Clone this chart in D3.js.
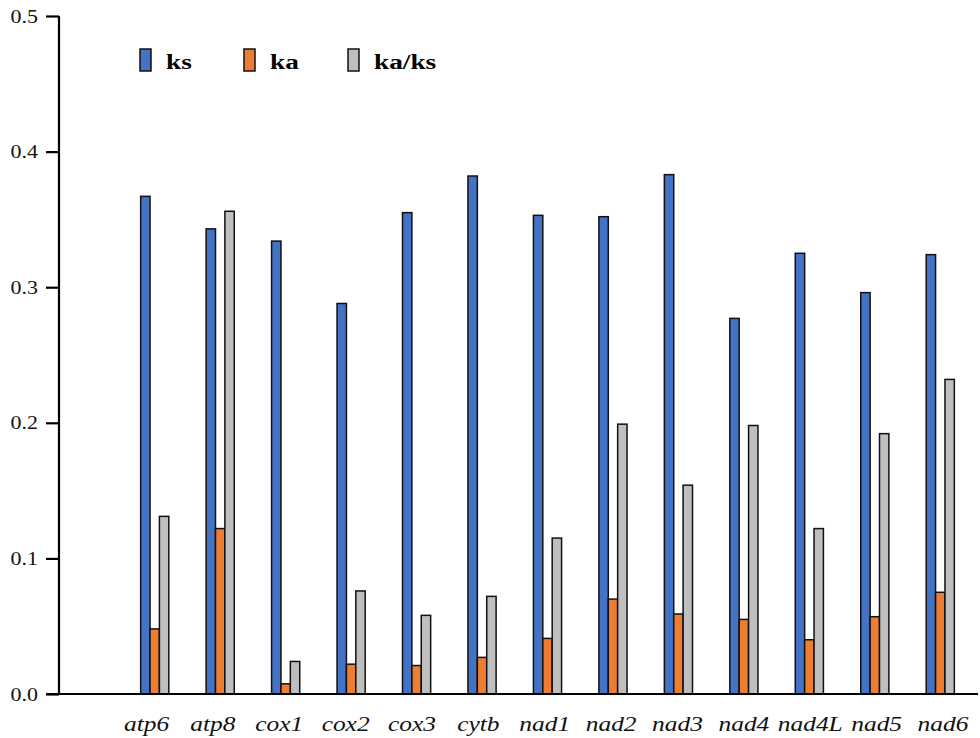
<!DOCTYPE html>
<html>
<head>
<meta charset="utf-8">
<script src="https://cdn.jsdelivr.net/npm/d3@7"></script>
<style>
  body { margin: 0; background: #fff; }
  text { font-family: "Liberation Serif", "Times New Roman", serif; }
</style>
</head>
<body>
<div id="chart"></div>
<script>
// genes and values
const genes = ["atp6", "atp8", "cox1", "cox2", "cox3", "cytb", "nad1", "nad2", "nad3", "nad4", "nad4L", "nad5", "nad6"];
const ks = [0.367, 0.343, 0.334, 0.288, 0.355, 0.382, 0.353, 0.352, 0.383, 0.277, 0.325, 0.296, 0.324];
const ka = [0.048, 0.122, 0.0075, 0.022, 0.021, 0.027, 0.041, 0.070, 0.059, 0.055, 0.040, 0.057, 0.075];
const kaks = [0.131, 0.356, 0.024, 0.076, 0.058, 0.072, 0.115, 0.199, 0.154, 0.198, 0.122, 0.192, 0.232];
const seriesNames = ["ks", "ka", "ka/ks"];
const yTicks = [0, 0.1, 0.2, 0.3, 0.4, 0.5];

const colors = ["#4472C4", "#ED7D31", "#BFBFBF"];

const width = 980, height = 738;
const axisX = 59, xEnd = 975, yTop = 16, yBase = 694;

const svg = d3.select("#chart").append("svg")
  .attr("width", width)
  .attr("height", height);

const y = d3.scaleLinear().domain([0, 0.5]).range([yBase, yTop]);

// first slot after the axis is left empty like the original
const x = d3.scaleBand().domain(genes).range([122, 973]).paddingInner(0.57).paddingOuter(0.285);
const xs = d3.scaleBand().domain(seriesNames).range([0, x.bandwidth()]);
// the gene labels sit on a slightly wider spacing than the bars
const xl = d3.scalePoint().domain(genes).range([146.5, 943]);

const rows = genes.map((g, i) => ({ gene: g, vals: [ks[i], ka[i], kaks[i]] }));

svg.append("g")
  .selectAll("g")
  .data(rows)
  .enter()
  .append("g")
  .attr("transform", (d) => `translate(${x(d.gene)},0)`)
  .selectAll("rect")
  .data((d) => d.vals.map((v, j) => ({ key: seriesNames[j], v: v, j: j })))
  .enter()
  .append("rect")
  .attr("x", (d) => xs(d.key))
  .attr("y", (d) => y(d.v))
  .attr("width", xs.bandwidth())
  .attr("height", (d) => yBase - y(d.v))
  .attr("fill", (d) => colors[d.j])
  .attr("stroke", "#111")
  .attr("stroke-width", 1.5);

// y axis
const yAxis = svg.append("g")
  .attr("transform", `translate(${axisX},0)`)
  .call(d3.axisLeft(y).tickValues(yTicks).tickFormat(d3.format(".1f")).tickSize(13).tickPadding(0));
yAxis.select(".domain").attr("stroke", "#000").attr("stroke-width", 2.2).attr("d", `M0,${yTop}V${yBase}`);
yAxis.selectAll(".tick line").attr("stroke", "#000").attr("stroke-width", 2.2);
yAxis.selectAll(".tick text")
  .attr("x", null).attr("dy", null)
  .attr("font-size", 18)
  .attr("fill", "#111")
  .attr("text-anchor", "end")
  .attr("transform", "translate(-21,6) scale(1.22,1)");

// x axis line
svg.append("line")
  .attr("x1", axisX - 13).attr("x2", xEnd + 3)
  .attr("y1", yBase).attr("y2", yBase)
  .attr("stroke", "#000").attr("stroke-width", 2.2);

// gene labels
svg.append("g")
  .selectAll("text")
  .data(genes)
  .enter()
  .append("text")
  .attr("transform", (d) => `translate(${xl(d)},731) scale(1.27,1)`)
  .attr("text-anchor", "middle")
  .attr("font-size", 20)
  .attr("font-style", "italic")
  .attr("fill", "#111")
  .text((d) => d);

// legend
const legendX = [140, 244, 348];
const legend = svg.append("g")
  .selectAll("g")
  .data(seriesNames)
  .enter()
  .append("g")
  .attr("transform", (d, i) => `translate(${legendX[i]},49)`);
legend.append("rect")
  .attr("width", 11).attr("height", 22)
  .attr("fill", (d, i) => colors[i])
  .attr("stroke", "#111").attr("stroke-width", 1.5);
legend.append("text")
  .attr("transform", "translate(26,20) scale(1.3,1)")
  .attr("font-size", 21)
  .attr("font-weight", "bold")
  .attr("fill", "#000")
  .text((d) => d);
</script>
</body>
</html>
